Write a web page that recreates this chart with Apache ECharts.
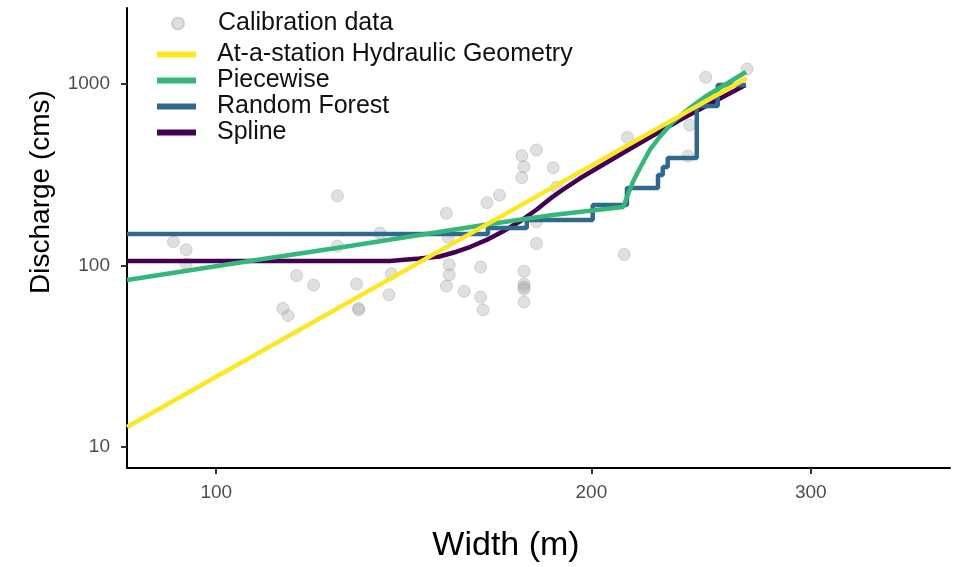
<!DOCTYPE html>
<html>
<head>
<meta charset="utf-8">
<script src="https://cdn.jsdelivr.net/npm/echarts@6/dist/echarts.min.js"></script>
<style>html,body{margin:0;padding:0;background:#fff}#c{width:963px;height:567px}</style>
</head>
<body>
<div id="c"></div>
<script>
// Calibration data (width m, discharge cms)
const calibWidth = [92.4, 94.6, 94.6, 125.1, 125.1, 135.3, 116, 119.7, 113.1, 114.2, 129.6, 130.1, 130.1, 138.2, 137.6,
  153, 153.5, 153.8, 153.8, 153, 158.1, 163, 163, 163.7, 164.9, 168.8, 175.9, 180.7, 176.6, 175.9, 186.4, 187.5,
  180.7, 180.7, 176.6, 176.6, 176.6, 176.6, 176.6, 213.8, 212.5, 266.7, 247.1, 239.9, 239.1];
const calibQ = [135, 122, 102, 242, 128, 151, 88, 78, 58, 53, 79, 58, 57, 90, 69,
  194, 143, 101, 89, 77, 72, 98, 67, 57, 222, 244, 403, 433, 350, 305, 346, 270,
  174, 132, 93, 79, 76, 74, 63, 508, 115, 1209, 1089, 594, 401];

// At-a-station Hydraulic Geometry
const ahgWidth = [84.8, 100, 150, 200, 266.4];
const ahgQ = [12.9, 24.4, 117, 355, 1075];

// Piecewise
const pwWidth = [84.8, 106.4, 128, 145.6, 164.9, 186.2, 212.1, 213.9, 216.3, 218.8, 222.8, 226.9, 232.5, 239.9, 246.6, 255, 266.1];
const pwQ = [83.2, 105.9, 128.1, 147.2, 168.1, 189.7, 210.1, 244.6, 296, 344.6, 433, 510.5, 617.3, 737.6, 848, 975, 1165];

// Random Forest (step levels starting at each width)
const rfWidth = [84.8, 165.2, 177.5, 200.5, 213.6, 226.2, 228.2, 230.3, 243, 252.6, 266.1];
const rfQ = [149, 160.9, 178.1, 215.4, 267.3, 315.3, 348.9, 391.2, 756.5, 987, 987];

// Spline
const spWidth = [84.8, 137.8, 145.6, 151.1, 155.9, 159.8, 164.8, 169.8, 175.2, 180.8, 186.3, 191.1, 195.7, 214.7, 235.5, 248.9, 265.9];
const spQ = [105.9, 105.9, 109.3, 112.1, 119.1, 126.4, 138.3, 153.9, 174.4, 203.6, 239.8, 270.7, 301.5, 438.5, 633.6, 775.9, 987];

const xTicks = [100, 200, 300];
const yTicks = [10, 100, 1000];

const zip = (a, b) => a.map((v, i) => [v, b[i]]);
const FONT = '"Liberation Sans", Arial, sans-serif';
const COLORS = {ahg: '#FDE725', pw: '#35B779', rf: '#31688E', sp: '#440154'};

const chart = echarts.init(document.getElementById('c'), null, {renderer: 'canvas'});
chart.setOption({
  animation: false,
  backgroundColor: '#fff',
  grid: {left: 127, top: 8, right: 13, bottom: 99, containLabel: false},
  xAxis: {
    type: 'log', logBase: 10, min: 84.8, max: 388,
    axisLine: {show: true, lineStyle: {color: '#000', width: 2}},
    axisTick: {show: true, customValues: xTicks, length: 6, lineStyle: {color: '#333', width: 2}},
    axisLabel: {customValues: xTicks, margin: 15, color: '#4d4d4d', fontSize: 19, fontFamily: FONT, formatter: v => String(Math.round(v))},
    splitLine: {show: false}, minorTick: {show: false}
  },
  yAxis: {
    type: 'log', logBase: 10, min: 7.66, max: 2623,
    axisLine: {show: true, lineStyle: {color: '#000', width: 2}},
    axisTick: {show: true, customValues: yTicks, length: 6, lineStyle: {color: '#333', width: 2}},
    axisLabel: {customValues: yTicks, margin: 17, color: '#4d4d4d', fontSize: 19, fontFamily: FONT, formatter: v => String(Math.round(v))},
    splitLine: {show: false}, minorTick: {show: false}
  },
  legend: [
    {
      left: 171, top: 11, orient: 'vertical', padding: 0,
      itemWidth: 12, itemHeight: 12, itemGap: 0,
      data: [{name: 'Calibration data', icon: 'circle'}],
      textStyle: {fontSize: 25, fontFamily: FONT, color: '#111', lineHeight: 25, padding: [0, 0, 0, 29]}
    },
    {
      left: 157, top: 42, orient: 'vertical', padding: 0,
      itemWidth: 39, itemHeight: 6, itemGap: 1,
      data: [
        {name: 'At-a-station Hydraulic Geometry', icon: 'rect'},
        {name: 'Piecewise', icon: 'rect'},
        {name: 'Random Forest', icon: 'rect'},
        {name: 'Spline', icon: 'rect'}
      ],
      textStyle: {fontSize: 25, fontFamily: FONT, color: '#111', lineHeight: 25, padding: [0, 0, 0, 16]}
    }
  ],
  graphic: [
    {type: 'text', x: 506, y: 529, style: {text: 'Width (m)', fontSize: 34, fontFamily: FONT, fill: '#000', textAlign: 'center', textVerticalAlign: 'top'}},
    {type: 'text', x: 27, y: 192, rotation: Math.PI / 2, style: {text: 'Discharge (cms)', fontSize: 28, fontFamily: FONT, fill: '#000', textAlign: 'center', textVerticalAlign: 'top'}}
  ],
  series: [
    {
      name: 'Calibration data', type: 'scatter', data: zip(calibWidth, calibQ), symbolSize: 12,
      itemStyle: {color: 'rgba(170,170,170,0.45)', borderColor: 'rgba(140,140,140,0.4)', borderWidth: 1}, z: 1
    },
    {
      name: 'Spline', type: 'line', data: zip(spWidth, spQ), showSymbol: false,
      lineStyle: {color: COLORS.sp, width: 4.5}, itemStyle: {color: COLORS.sp}, z: 2
    },
    {
      name: 'Random Forest', type: 'line', data: zip(rfWidth, rfQ), showSymbol: false, step: 'end',
      lineStyle: {color: COLORS.rf, width: 4.5}, itemStyle: {color: COLORS.rf}, z: 3
    },
    {
      name: 'Piecewise', type: 'line', data: zip(pwWidth, pwQ), showSymbol: false,
      lineStyle: {color: COLORS.pw, width: 4.5}, itemStyle: {color: COLORS.pw}, z: 4
    },
    {
      name: 'At-a-station Hydraulic Geometry', type: 'line', data: zip(ahgWidth, ahgQ), showSymbol: false,
      lineStyle: {color: COLORS.ahg, width: 4.5}, itemStyle: {color: COLORS.ahg}, z: 5
    }
  ]
});
</script>
</body>
</html>
